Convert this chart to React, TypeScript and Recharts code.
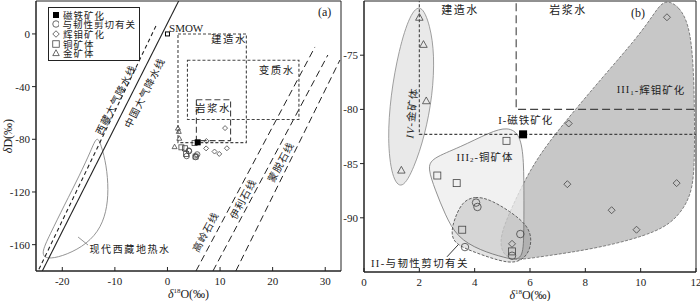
import React from "react";
import {
  ScatterChart,
  Scatter,
  XAxis,
  YAxis,
  ReferenceArea,
  ReferenceDot,
  Legend,
  Label,
} from "recharts";

const FONT = "'Liberation Serif', 'Times New Roman', 'Noto Sans CJK SC', serif";
const INK = "#222";

type Pt = { x: number; y: number };

// sample data: δ18O (x), δD (y)
const magnetite: Pt[] = [{ x: 5.75, y: -82.3 }];
const shearZone: Pt[] = [
  { x: 4.05, y: -88.6 },
  { x: 4.1, y: -89.0 },
  { x: 5.65, y: -91.5 },
  { x: 3.65, y: -92.7 },
  { x: 5.35, y: -93.5 },
];
const molybdenite: Pt[] = [
  { x: 10.95, y: -71.5 },
  { x: 7.4, y: -81.3 },
  { x: 7.35, y: -86.9 },
  { x: 8.95, y: -89.3 },
  { x: 9.85, y: -91.1 },
  { x: 11.3, y: -86.8 },
  { x: 5.35, y: -92.4 },
];
const copperOre: Pt[] = [
  { x: 5.15, y: -82.9 },
  { x: 2.65, y: -86.1 },
  { x: 3.35, y: -86.8 },
  { x: 3.55, y: -91.1 },
  { x: 5.35, y: -93.1 },
];
const goldOre: Pt[] = [
  { x: 2.0, y: -71.5 },
  { x: 2.15, y: -74.0 },
  { x: 2.25, y: -79.2 },
  { x: 1.35, y: -85.6 },
];
const smow: Pt[] = [{ x: 0, y: 0 }];

const legendLabels = ["磁铁矿化", "与韧性剪切有关", "辉钼矿化", "铜矿体", "金矿体"];
const legendKinds = ["mag", "circle", "diamond", "square", "triangle"];

// panel (a) reference lines
const chinaMwl: Pt[] = [{ x: 2.13, y: 25 }, { x: -23.8, y: -180 }];
const tibetMwl: Pt[] = [{ x: -2.2, y: 6 }, { x: -24.6, y: -180 }];
const kaoliniteLine: Pt[] = [{ x: 5.42, y: -180 }, { x: 28.05, y: -9.9 }];
const illiteLine: Pt[] = [{ x: 8.65, y: -180 }, { x: 30.5, y: -16 }];
const smectiteLine: Pt[] = [{ x: 13.0, y: -180 }, { x: 32.8, y: -19.8 }];

const formationA: Pt[] = [{ x: 2, y: 0 }, { x: 15, y: 0 }, { x: 15, y: -82.5 }, { x: 2, y: -82.5 }];
const metamorphicA: Pt[] = [{ x: 3.8, y: -20 }, { x: 25, y: -20 }, { x: 25, y: -65 }, { x: 3.8, y: -65 }];
const magmaticA: Pt[] = [{ x: 5.5, y: -50 }, { x: 12, y: -50 }, { x: 12, y: -81 }, { x: 5.5, y: -81 }];

const geothermal: Pt[] = [
  { x: -13.4, y: -77 },
  { x: -12.6, y: -84.4 },
  { x: -11.6, y: -99.5 },
  { x: -11.2, y: -118.5 },
  { x: -11.6, y: -135.2 },
  { x: -13.1, y: -150.4 },
  { x: -16.2, y: -162 },
  { x: -20.1, y: -169 },
  { x: -22.9, y: -171 },
  { x: -24.1, y: -167.1 },
  { x: -22.4, y: -152.7 },
  { x: -19.6, y: -130 },
  { x: -16.7, y: -107.2 },
  { x: -14.5, y: -88.2 },
];
const geoLeader: Pt[] = [{ x: -17.0, y: -154.2 }, { x: -15.1, y: -160.3 }];

// panel (b) fields
const formationB: Pt[] = [{ x: 2, y: -68 }, { x: 2, y: -82.3 }, { x: 13, y: -82.3 }];
const magmaticB: Pt[] = [{ x: 5.5, y: -68 }, { x: 5.5, y: -80 }, { x: 13, y: -80 }];

const goldField: Pt[] = [
  { x: 2.06, y: -70.2 },
  { x: 2.39, y: -72.2 },
  { x: 2.55, y: -75.0 },
  { x: 2.48, y: -78.7 },
  { x: 2.2, y: -82.4 },
  { x: 1.81, y: -85.4 },
  { x: 1.37, y: -87.5 },
  { x: 1.0, y: -86.3 },
  { x: 0.85, y: -82.8 },
  { x: 0.96, y: -78.7 },
  { x: 1.26, y: -74.5 },
  { x: 1.66, y: -71.2 },
];
const molyField: Pt[] = [
  { x: 10.88, y: -69.8 },
  { x: 11.4, y: -70.5 },
  { x: 11.75, y: -72.2 },
  { x: 11.9, y: -75.4 },
  { x: 11.95, y: -80.1 },
  { x: 11.95, y: -85.6 },
  { x: 11.82, y: -87.9 },
  { x: 11.42, y: -89.7 },
  { x: 10.7, y: -91.3 },
  { x: 8.53, y: -92.8 },
  { x: 6.36, y: -93.6 },
  { x: 5.46, y: -93.95 },
  { x: 5.05, y: -93.5 },
  { x: 4.9, y: -92.3 },
  { x: 5.06, y: -90.7 },
  { x: 5.46, y: -88.4 },
  { x: 6.0, y: -85.6 },
  { x: 6.72, y: -82.8 },
  { x: 8.53, y: -77.3 },
  { x: 9.97, y: -73.1 },
  { x: 10.52, y: -71.0 },
];
const copperField: Pt[] = [
  { x: 5.2, y: -81.6 },
  { x: 5.65, y: -82.3 },
  { x: 5.78, y: -84.7 },
  { x: 5.78, y: -88.4 },
  { x: 5.78, y: -92.0 },
  { x: 5.72, y: -94.0 },
  { x: 5.1, y: -93.7 },
  { x: 4.19, y: -93.0 },
  { x: 3.36, y: -91.8 },
  { x: 2.93, y: -89.7 },
  { x: 2.57, y: -87.4 },
  { x: 2.3, y: -85.4 },
  { x: 2.45, y: -84.5 },
  { x: 3.47, y: -83.5 },
  { x: 4.55, y: -82.1 },
];
const shearField: Pt[] = [
  { x: 3.55, y: -88.5 },
  { x: 4.01, y: -88.0 },
  { x: 4.55, y: -88.3 },
  { x: 5.28, y: -89.4 },
  { x: 5.92, y: -90.7 },
  { x: 6.08, y: -92.05 },
  { x: 5.92, y: -93.5 },
  { x: 5.49, y: -94.2 },
  { x: 4.92, y: -94.0 },
  { x: 4.01, y: -93.2 },
  { x: 3.25, y: -92.4 },
  { x: 3.15, y: -91.3 },
  { x: 3.27, y: -90.1 },
];
const shearLeader: Pt[] = [{ x: 3.0, y: -93.6 }, { x: 3.4, y: -92.5 }];

const noDot = () => <g />;

const markerShape = (kind: string, s: number) => (p: any) => {
  const { cx, cy } = p;
  const h = s / 2;
  const st = { fill: "none", stroke: "#444", strokeWidth: 0.8 };
  if (kind === "mag") return <rect x={cx - h} y={cy - h} width={s} height={s} fill="#000" />;
  if (kind === "smow")
    return <rect x={cx - h} y={cy - h} width={s} height={s} fill="#fff" stroke="#000" strokeWidth={1} />;
  if (kind === "circle") return <circle cx={cx} cy={cy} r={h} {...st} />;
  if (kind === "square") return <rect x={cx - h} y={cy - h} width={s} height={s} {...st} />;
  if (kind === "diamond")
    return <polygon points={`${cx},${cy - h} ${cx + h},${cy} ${cx},${cy + h} ${cx - h},${cy}`} {...st} />;
  return <polygon points={`${cx},${cy - h} ${cx + h},${cy + h * 0.8} ${cx - h},${cy + h * 0.8}`} {...st} />;
};

const textShape =
  (label: React.ReactNode, size = 11, angle = 0, spacing = 1, anchor = "middle") =>
  (p: any) => (
    <text
      x={p.cx}
      y={p.cy}
      transform={angle ? `rotate(${angle} ${p.cx} ${p.cy})` : undefined}
      textAnchor={anchor}
      dominantBaseline="central"
      fontSize={size}
      fontFamily={FONT}
      fill={INK}
      letterSpacing={spacing}
    >
      {label}
    </text>
  );

const XTitle = (props: any) => {
  const vb = props.viewBox;
  return (
    <text x={vb.x + vb.width / 2} y={vb.y + 27} textAnchor="middle" fontSize={12} fontFamily={FONT} fill={INK}>
      <tspan fontStyle="italic">δ</tspan>
      <tspan fontSize={7} dy={-5}>18</tspan>
      <tspan dy={5}>O(‰)</tspan>
    </text>
  );
};

const YTitle = (props: any) => {
  const vb = props.viewBox;
  const x = vb.x + 8;
  const y = vb.y + vb.height / 2;
  return (
    <text x={x} y={y} transform={`rotate(-90 ${x} ${y})`} textAnchor="middle" dominantBaseline="central" fontSize={12} fontFamily={FONT} fill={INK}>
      <tspan fontStyle="italic">δ</tspan>D(‰)
    </text>
  );
};

const LegendBox = () => (
  <div
    style={{
      border: `1px solid ${INK}`,
      background: "#fff",
      padding: "2px 3px",
      fontFamily: FONT,
      fontSize: 9.5,
      color: INK,
      width: 84,
    }}
  >
    {legendLabels.map((lab, i) => (
      <div key={lab} style={{ display: "flex", alignItems: "center", height: 9.6 }}>
        <svg width={8} height={8}>
          {markerShape(legendKinds[i], legendKinds[i] === "mag" ? 6 : 6.5)({ cx: 4, cy: 4 })}
        </svg>
        <span style={{ marginLeft: 3, letterSpacing: 1, whiteSpace: "nowrap" }}>{lab}</span>
      </div>
    ))}
  </div>
);

const tickStyle = { fill: INK, fontSize: 11, fontFamily: FONT };

const outline = (key: string, data: Pt[], style: any, curve: string) => (
  <Scatter
    key={key}
    data={data}
    shape={noDot}
    line={{ fill: "none", stroke: INK, strokeWidth: 1, ...style }}
    lineJointType={curve as any}
    isAnimationActive={false}
    legendType="none"
  />
);

const points = (key: string, data: Pt[], kind: string, s: number) => (
  <Scatter key={key} data={data} shape={markerShape(kind, s)} isAnimationActive={false} legendType="none" />
);

const note = (key: string, x: number, y: number, shape: any) => (
  <ReferenceDot key={key} x={x} y={y} r={0} shape={shape} ifOverflow="visible" />
);

function PanelA() {
  return (
    <ScatterChart width={345} height={301} margin={{ top: 1, right: 4, bottom: 0, left: 0 }}>
      <XAxis
        type="number"
        dataKey="x"
        domain={[-25, 33]}
        ticks={[-20, -10, 0, 10, 20, 30]}
        interval={0}
        allowDataOverflow
        height={30}
        tickSize={-4}
        tickMargin={10}
        tick={tickStyle}
        axisLine={{ stroke: INK }}
        tickLine={{ stroke: INK }}
        label={<Label content={XTitle} />}
      />
      <YAxis
        type="number"
        dataKey="y"
        domain={[-180, 25]}
        ticks={[-160, -120, -80, -40, 0]}
        interval={0}
        allowDataOverflow
        width={36}
        tickSize={4}
        tickMargin={2}
        tick={tickStyle}
        axisLine={{ stroke: INK }}
        tickLine={{ stroke: INK }}
        label={<Label content={YTitle} />}
      />
      <ReferenceArea x1={-25} x2={33} y1={-180} y2={25} fill="none" stroke={INK} strokeWidth={1} ifOverflow="visible" />
      <Legend layout="vertical" align="center" verticalAlign="middle" content={() => <LegendBox />} wrapperStyle={{ left: 48, top: 7, width: 92 }} />
      {outline("geo", geothermal, { stroke: "#888", strokeWidth: 0.9 }, "basisClosed")}
      {outline("geoLeader", geoLeader, { stroke: "#888", strokeWidth: 0.9 }, "linear")}
      {outline("china", chinaMwl, { strokeWidth: 1.1 }, "linear")}
      {outline("tibet", tibetMwl, { strokeWidth: 1.1, strokeDasharray: "4 3" }, "linear")}
      {outline("kao", kaoliniteLine, { strokeDasharray: "7 4" }, "linear")}
      {outline("ill", illiteLine, { strokeDasharray: "7 4" }, "linear")}
      {outline("sme", smectiteLine, { strokeDasharray: "7 4" }, "linear")}
      {outline("formA", formationA, { stroke: "#444", strokeWidth: 1.1, strokeDasharray: "3 2" }, "linearClosed")}
      {outline("metaA", metamorphicA, { stroke: "#444", strokeWidth: 1.1, strokeDasharray: "3 2" }, "linearClosed")}
      {outline("magA", magmaticA, { stroke: "#444", strokeWidth: 1.1, strokeDasharray: "6 3" }, "linearClosed")}
      {points("au", goldOre, "triangle", 5)}
      {points("cu", copperOre, "square", 5)}
      {points("mo", molybdenite, "diamond", 5)}
      {points("sh", shearZone, "circle", 5.5)}
      {points("mag", magnetite, "mag", 6)}
      {points("smow", smow, "smow", 4)}
      {note("a", 29.9, 16.6, textShape("(a)", 12, 0, 0))}
      {note("smowT", 0.3, 4.5, textShape("SMOW", 11, 0, 0, "start"))}
      {note("jz", 11.7, -4.6, textShape("建造水", 10.5, 0, 1.5))}
      {note("bz", 20.8, -27.4, textShape("变质水", 10.5, 0, 1.5))}
      {note("yj", 8.65, -56.3, textShape("岩浆水", 10.5, 0, 1.5))}
      {note("xz", -9.8, -50.2, textShape("西藏大气降水线", 10, -63.2, 1))}
      {note("zg", -4.3, -44.8, textShape("中国大气降水线", 10, -63.2, 1))}
      {note("gl", 7.3, -150.4, textShape("高岭石线", 10, -62, 1))}
      {note("yl", 14.4, -125.4, textShape("伊利石线", 10, -62, 1))}
      {note("mt", 21.6, -97.3, textShape("蒙脱石线", 10, -62, 1))}
      {note("geoT", -7.1, -163.3, textShape("现代西藏地热水", 10, 0, 1.6))}
    </ScatterChart>
  );
}

function PanelB() {
  return (
    <ScatterChart width={360} height={301} margin={{ top: 1, right: 4, bottom: 0, left: 0 }}>
      <XAxis
        type="number"
        dataKey="x"
        domain={[0, 12]}
        ticks={[0, 2, 4, 6, 8, 10, 12]}
        interval={0}
        allowDataOverflow
        height={29}
        tickSize={-4}
        tickMargin={10}
        tick={tickStyle}
        axisLine={{ stroke: INK }}
        tickLine={{ stroke: INK }}
        label={<Label content={XTitle} />}
      />
      <YAxis
        type="number"
        dataKey="y"
        domain={[-95, -70]}
        ticks={[-90, -85, -80, -75]}
        interval={0}
        allowDataOverflow
        width={24}
        tickSize={4}
        tickMargin={2}
        tick={tickStyle}
        axisLine={{ stroke: INK }}
        tickLine={{ stroke: INK }}
      />
      {outline("goldF", goldField, { fill: "#e9e9e9", stroke: "#888", strokeWidth: 0.8 }, "basisClosed")}
      {outline("moF", molyField, { fill: "#c7c7c7", stroke: "#666", strokeWidth: 0.8, strokeDasharray: "3 1.5" }, "basisClosed")}
      {outline("cuF", copperField, { fill: "#ececec", fillOpacity: 0.75, stroke: "#777", strokeWidth: 0.8 }, "basisClosed")}
      {outline("shF", shearField, { fill: "#000", fillOpacity: 0.11, stroke: "#555", strokeWidth: 0.9, strokeDasharray: "3 1.5" }, "basisClosed")}
      {outline("formB", formationB, { stroke: "#444", strokeWidth: 1.1, strokeDasharray: "3 2" }, "linear")}
      {outline("magB", magmaticB, { stroke: "#444", strokeWidth: 1.1, strokeDasharray: "8 4" }, "linear")}
      {outline("shL", shearLeader, { stroke: INK, strokeWidth: 0.9 }, "linear")}
      <ReferenceArea x1={0} x2={12} y1={-95} y2={-70} fill="none" stroke={INK} strokeWidth={1} ifOverflow="visible" />
      {points("au", goldOre, "triangle", 7.5)}
      {points("cu", copperOre, "square", 7)}
      {points("mo", molybdenite, "diamond", 7)}
      {points("sh", shearZone, "circle", 7.5)}
      {points("mag", magnetite, "mag", 8)}
      {note("jz", 3.47, -70.83, textShape("建造水", 11, 0, 1.5))}
      {note("yj", 7.37, -70.83, textShape("岩浆水", 11, 0, 1.5))}
      {note("b", 9.9, -71.1, textShape("(b)", 12, 0, 0))}
      {note("mo1", 10.37, -78.2, textShape(<>III<tspan fontSize={7} dy={3}>1</tspan><tspan dy={-3}>-辉钼矿化</tspan></>, 10.5, 0, 1))}
      {note("fe", 5.85, -81.07, textShape("I-磁铁矿化", 10.5, 0, 1))}
      {note("au4", 1.73, -80.33, textShape(<><tspan fontStyle="italic">IV</tspan>-金矿体</>, 10.5, -84, 1))}
      {note("cu2", 4.37, -84.4, textShape(<>III<tspan fontSize={7} dy={3}>2</tspan><tspan dy={-3}>-铜矿体</tspan></>, 10.5, 0, 1))}
      {note("sh2", 2.02, -94.17, textShape("II-与韧性剪切有关", 10.5, 0, 1.4))}
    </ScatterChart>
  );
}

export default function App() {
  return (
    <div style={{ position: "absolute", left: 0, top: 0, width: 700, height: 301, background: "#fff" }}>
      <div style={{ position: "absolute", left: 0, top: 0 }}>
        <PanelA />
      </div>
      <div style={{ position: "absolute", left: 340, top: 0 }}>
        <PanelB />
      </div>
    </div>
  );
}
